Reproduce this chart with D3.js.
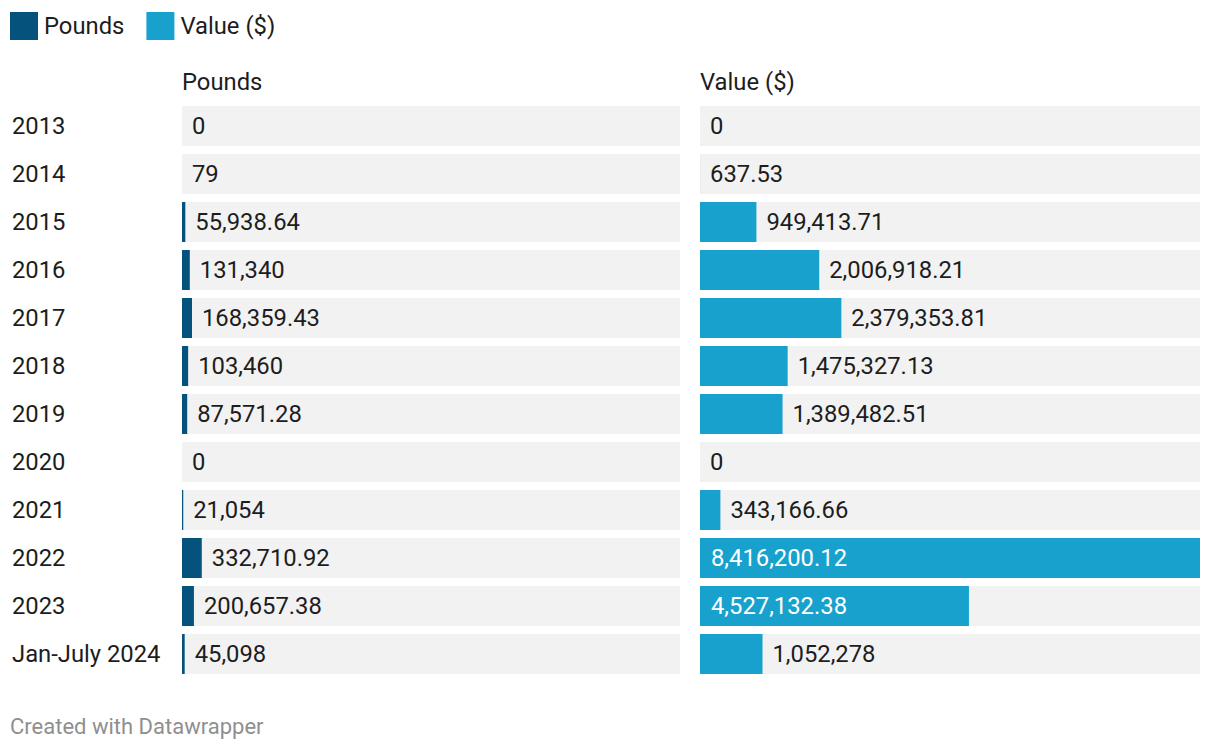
<!DOCTYPE html>
<html><head><meta charset="utf-8">
<script src="https://cdn.jsdelivr.net/npm/d3@7"></script>
<style>
body{margin:0;background:#fff;font-family:Roboto,"Noto Sans",sans-serif;}
svg text{font-family:Roboto,"Noto Sans",sans-serif;}
</style></head><body>
<svg id="c" width="1220" height="752"></svg>
<script>
const years = ["2013","2014","2015","2016","2017","2018","2019","2020","2021","2022","2023","Jan-July 2024"];
const pounds = [0,79,55938.64,131340,168359.43,103460,87571.28,0,21054,332710.92,200657.38,45098];
const values = [0,637.53,949413.71,2006918.21,2379353.81,1475327.13,1389482.51,0,343166.66,8416200.12,4527132.38,1052278];
const seriesNames = ["Pounds","Value ($)"];
const colors = ["#05537c","#18a1cd"];

const svg = d3.select("#c");
const fs = 23.8;
const textColor = "#1d1d1d";
const fmt = v => d3.format(",")(v);

// legend
const legend = svg.append("g");
let lx = 10;
seriesNames.forEach((n,i)=>{
  legend.append("rect").attr("x",lx).attr("y",12).attr("width",28).attr("height",28).attr("fill",colors[i]);
  const t = legend.append("text").attr("x",lx+34).attr("y",26).attr("dy","0.35em")
    .attr("font-size",fs).attr("fill",textColor).text(n);
  lx += 34 + t.node().getComputedTextLength() + 22;
});

const y2 = d3.scaleBand().domain(years).range([106, 106+48*12-8]).paddingInner(8/48);
const maxV = d3.max(values.concat(pounds));
const colX = [182,700];
const colW = 500;
const x = d3.scaleLinear().domain([0,maxV]).range([0,colW]);

// row labels
svg.append("g").selectAll("text").data(years).join("text")
  .attr("x",12).attr("y",d=>y2(d)+y2.bandwidth()/2).attr("dy","0.35em")
  .attr("font-size",fs).attr("fill",textColor).text(d=>d);

[pounds,values].forEach((arr,ci)=>{
  const g = svg.append("g").attr("transform",`translate(${colX[ci]},0)`);
  g.append("text").attr("x",0).attr("y",82).attr("dy","0.35em").attr("font-size",fs).attr("fill",textColor).text(seriesNames[ci]);
  g.selectAll("rect.bg").data(years).join("rect").attr("class","bg")
    .attr("x",0).attr("y",d=>y2(d)).attr("width",ci===0?498:colW).attr("height",y2.bandwidth()).attr("fill","#f2f2f2");
  g.selectAll("rect.bar").data(arr).join("rect").attr("class","bar")
    .attr("x",0).attr("y",(d,i)=>y2(years[i])).attr("width",d=>x(d))
    .attr("height",y2.bandwidth()).attr("fill",colors[ci]);
  g.selectAll("text.val").data(arr).join("text").attr("class","val")
    .attr("y",(d,i)=>y2(years[i])+y2.bandwidth()/2).attr("dy","0.35em").attr("font-size",fs)
    .text(d=>fmt(d))
    .each(function(d){
      const w = this.getComputedTextLength();
      const bw = x(d);
      if (bw > w + 22) {
        d3.select(this).attr("x",11).attr("fill","#fff");
      } else {
        d3.select(this).attr("x",Math.max(bw,0)+10).attr("fill",textColor);
      }
    });
});

svg.append("text").attr("x",10).attr("y",726).attr("dy","0.35em").attr("font-size",22).attr("fill","#8f8f8f").text("Created with Datawrapper");
</script>
</body></html>
